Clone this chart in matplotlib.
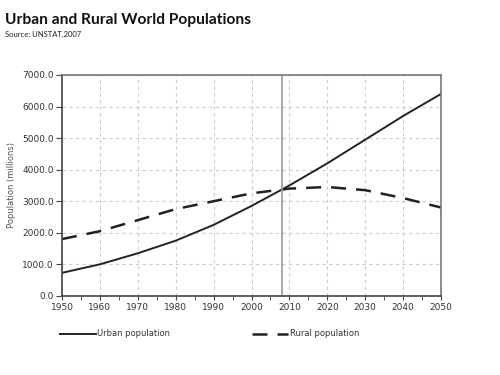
import matplotlib.pyplot as plt
from matplotlib.ticker import MultipleLocator, FormatStrFormatter
from matplotlib.lines import Line2D

years = [1950, 1960, 1970, 1980, 1990, 2000, 2010, 2020, 2030, 2040, 2050]
urban = [730, 1000, 1350, 1750, 2250, 2850, 3500, 4200, 4950, 5700, 6400]
rural = [1800, 2050, 2400, 2750, 3000, 3250, 3400, 3450, 3350, 3100, 2800]
cross_year = 2008

fig = plt.figure(figsize=(5, 3.75), dpi=100)
ax = fig.add_axes([0.124, 0.211, 0.758, 0.589])

ax.plot(years, urban, color="#222222", lw=1.4)
ax.plot(years, rural, color="#222222", lw=1.8, dashes=(6, 4))
ax.axvline(cross_year, color="#999999", lw=1.2)

ax.set_xlim(1950, 2050)
ax.set_ylim(0, 7000)
ax.xaxis.set_major_locator(MultipleLocator(10))
ax.xaxis.set_minor_locator(MultipleLocator(5))
ax.yaxis.set_major_locator(MultipleLocator(1000))
ax.yaxis.set_major_formatter(FormatStrFormatter("%.1f"))
ax.grid(True, which="major", color="#cccccc", ls=(0, (3, 3)), lw=0.8)

for s in ["top", "right"]:
    ax.spines[s].set_color("#777777")
    ax.spines[s].set_linewidth(1.2)
for s in ["left", "bottom"]:
    ax.spines[s].set_color("#444444")
    ax.spines[s].set_linewidth(1.2)

ax.tick_params(axis="both", which="both", direction="out", length=3,
               color="#444444", labelsize=6.5, labelcolor="#333333", pad=2)
ax.tick_params(axis="y", which="major", length=4)
ax.set_ylabel("Population (millions)", fontsize=6, color="#555555", labelpad=4)

fig.text(0.01, 0.935, "Urban and Rural World Populations", fontsize=11.2,
         fontweight="bold", family="Lato", color="#111111")
fig.text(0.01, 0.902, "Source: UNSTAT,2007", fontsize=5.5, family="Lato",
         color="#222222")

# legend drawn below the axes
leg_ax = fig.add_axes([0, 0, 1, 1], facecolor="none")
leg_ax.set_axis_off()
leg_ax.set_xlim(0, 500)
leg_ax.set_ylim(375, 0)
leg_ax.add_line(Line2D([60, 96], [334, 334], color="#222222", lw=1.4))
leg_ax.text(97, 334, "Urban population", fontsize=6, color="#333333", va="center")
leg_ax.add_line(Line2D([252, 288], [334, 334], color="#222222", lw=1.8, dashes=(6, 4)))
leg_ax.text(290, 334, "Rural population", fontsize=6, color="#333333", va="center")

fig.savefig("out.png", dpi=100)
